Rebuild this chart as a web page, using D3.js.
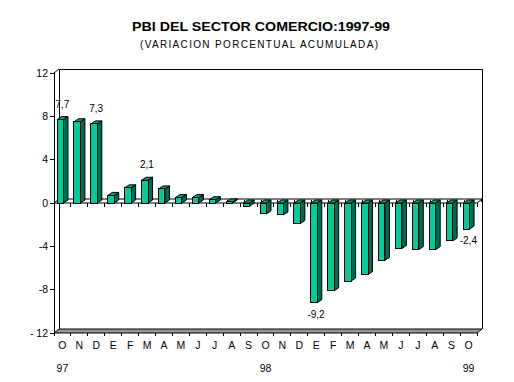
<!DOCTYPE html>
<html>
<head>
<meta charset="utf-8">
<script src="https://cdn.jsdelivr.net/npm/d3@7"></script>
<style>
  html, body { margin: 0; padding: 0; background: #fff; }
  svg { display: block; font-family: "Liberation Sans", Arial, sans-serif; }
</style>
</head>
<body>
<svg id="chart" width="514" height="382"></svg>
<script>
const titleText = "PBI DEL SECTOR COMERCIO:1997-99";
const subtitleText = "(VARIACION PORCENTUAL ACUMULADA)";
const months = ["O","N","D","E","F","M","A","M","J","J","A","S","O","N","D","E","F","M","A","M","J","J","A","S","O"];
const years  = ["97","","","","","","","","","","","","98","","","","","","","","","","","","99"];
const values = [7.7,7.5,7.3,0.7,1.4,2.1,1.3,0.5,0.5,0.3,0.1,-0.3,-1.0,-1.1,-1.9,-9.2,-8.1,-7.2,-6.6,-5.3,-4.2,-4.3,-4.3,-3.5,-2.4];
const labeledIdx = [0,2,5,15,24];
const yTicks = [-12,-8,-4,0,4,8,12];
const yTickLabels = ["- 12","-8","-4","0","4","8","12"];

const svg = d3.select("#chart");
const x = d3.scaleBand().domain(d3.range(months.length)).range([54, 477]).padding(0);
const y = d3.scaleLinear().domain([-12, 12]).range([333, 73]);
const DX = 5, DY = -4;      // wall depth
const BDX = 4.5, BDY = -3;  // bar depth
const bw = x.bandwidth();
const xL = x.range()[0], xR = x.range()[1];

// Title
svg.append("text").attr("x", 261).attr("y", 31).attr("text-anchor", "middle")
  .attr("font-size", 13).attr("font-weight", "bold")
  .attr("textLength", 258).attr("lengthAdjust", "spacingAndGlyphs").text(titleText);
svg.append("text").attr("x", 259).attr("y", 48).attr("text-anchor", "middle")
  .attr("font-size", 10).attr("textLength", 238).attr("lengthAdjust", "spacing").text(subtitleText);

const g = svg.append("g").attr("shape-rendering", "crispEdges");

// Back wall
g.append("path")
  .attr("d", `M${xL+DX},${y(-12)+DY} V${y(12)+DY} H${xR+DX} V${y(-12)+DY}`)
  .attr("fill", "none").attr("stroke", "#000");

// Floor at -12
g.append("path")
  .attr("d", `M${xL},${y(-12)} H${xR} L${xR+DX},${y(-12)+DY} H${xL+DX} Z`)
  .attr("fill", "#969696").attr("stroke", "#000").attr("shape-rendering", "auto");

// Left wall front edge
g.append("line").attr("x1", xL).attr("x2", xL).attr("y1", y(12)).attr("y2", y(-12)).attr("stroke", "#000");
g.append("line").attr("x1", xL).attr("y1", y(12)).attr("x2", xL+DX).attr("y2", y(12)+DY)
  .attr("stroke", "#000").attr("shape-rendering", "auto");

// Zero plane
g.append("path")
  .attr("d", `M${xL},${y(0)} H${xR} L${xR+DX},${y(0)+DY} H${xL+DX} Z`)
  .attr("fill", "#fff").attr("stroke", "#000").attr("shape-rendering", "auto");

// Category ticks (at zero plane and bottom)
const bounds = d3.range(months.length + 1).map(i => xL + i * x.step());
bounds.forEach(bx => {
  g.append("line").attr("x1", bx).attr("x2", bx).attr("y1", y(0)).attr("y2", y(0)+4).attr("stroke", "#000");
  g.append("line").attr("x1", bx).attr("x2", bx).attr("y1", y(-12)).attr("y2", y(-12)+3).attr("stroke", "#000");
  g.append("line").attr("x1", bx+DX-1).attr("x2", bx+DX-1).attr("y1", y(0)+DY+1).attr("y2", y(0)-1).attr("stroke", "#000");
});

// Y axis ticks and labels
yTicks.forEach((t, i) => {
  g.append("line").attr("x1", xL-4).attr("x2", xL).attr("y1", y(t)).attr("y2", y(t)).attr("stroke", "#000");
  svg.append("text").attr("x", xL-6).attr("y", y(t)).attr("dy", "0.35em")
    .attr("text-anchor", "end").attr("font-size", 10.5).text(yTickLabels[i]);
});

// Bars
const frontColor = "#00CC99", sideColor = "#006B52", topColor = "#00A37C";
const fw = bw * 0.38, off = bw * 0.18;
values.forEach((v, i) => {
  const x0 = x(i) + off;
  const yt = Math.min(y(v), y(0)), yb = Math.max(y(v), y(0));
  const bar = svg.append("g").attr("stroke", "#000").attr("stroke-width", 1).attr("stroke-linejoin", "miter");
  bar.append("path")
    .attr("d", `M${x0+fw},${yt} L${x0+fw+BDX},${yt+BDY} L${x0+fw+BDX},${yb+BDY} L${x0+fw},${yb} Z`)
    .attr("fill", sideColor);
  bar.append("path")
    .attr("d", `M${x0},${yt} L${x0+BDX},${yt+BDY} L${x0+fw+BDX},${yt+BDY} L${x0+fw},${yt} Z`)
    .attr("fill", topColor);
  bar.append("rect").attr("x", x0).attr("y", yt).attr("width", fw).attr("height", yb - yt)
    .attr("fill", frontColor).attr("shape-rendering", "crispEdges");
});

// Data labels
const fmt = v => d3.format(".1f")(v).replace(".", ",").replace("\u2212", "-");
labeledIdx.forEach(i => {
  const v = values[i];
  const cx = x(i) + off + fw / 2 + 2;
  const ty = v >= 0 ? y(v) - 12 : y(v) + 15;
  svg.append("text").attr("x", cx).attr("y", ty).attr("text-anchor", "middle")
    .attr("font-size", 10).text(fmt(v));
});

// X labels
months.forEach((m, i) => {
  svg.append("text").attr("x", x(i) + bw/2).attr("y", 349).attr("text-anchor", "middle")
    .attr("font-size", 10.5).text(m);
  if (years[i]) {
    svg.append("text").attr("x", x(i) + bw/2).attr("y", 372).attr("text-anchor", "middle")
      .attr("font-size", 10.5).text(years[i]);
  }
});
</script>
</body>
</html>
